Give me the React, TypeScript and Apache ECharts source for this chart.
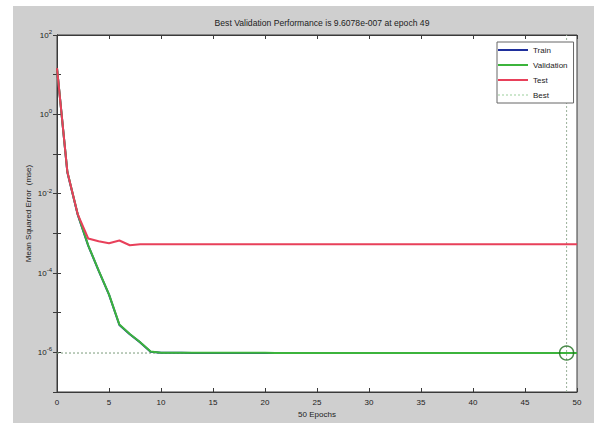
import React, { useEffect, useRef } from "react";
import * as echarts from "echarts";

const epochs: number[] = Array.from({ length: 51 }, (_, i) => i);

const trainMse: number[] = [
  14.7, 0.034, 0.0029, 4.9e-4, 1.15e-4, 2.85e-5, 4.9e-6, 2.85e-6, 1.78e-6, 1.04e-6,
  9.7e-7, 9.7e-7, 9.7e-7, 9.69e-7, 9.69e-7, 9.69e-7, 9.68e-7, 9.68e-7, 9.68e-7, 9.67e-7,
  9.67e-7, 9.67e-7, 9.66e-7, 9.66e-7, 9.66e-7, 9.65e-7, 9.65e-7, 9.65e-7, 9.64e-7, 9.64e-7,
  9.64e-7, 9.63e-7, 9.63e-7, 9.63e-7, 9.62e-7, 9.62e-7, 9.62e-7, 9.62e-7, 9.61e-7, 9.61e-7,
  9.61e-7, 9.61e-7, 9.6e-7, 9.6e-7, 9.6e-7, 9.6e-7, 9.6e-7, 9.6e-7, 9.6e-7, 9.6e-7, 9.6e-7,
];

const validationMse: number[] = [
  14.7, 0.035, 0.003, 5.0e-4, 1.17e-4, 2.9e-5, 5.0e-6, 2.9e-6, 1.8e-6, 1.05e-6,
  9.75e-7, 9.74e-7, 9.74e-7, 9.73e-7, 9.73e-7, 9.72e-7, 9.72e-7, 9.71e-7, 9.71e-7, 9.7e-7,
  9.7e-7, 9.69e-7, 9.69e-7, 9.68e-7, 9.68e-7, 9.67e-7, 9.67e-7, 9.66e-7, 9.66e-7, 9.65e-7,
  9.65e-7, 9.65e-7, 9.64e-7, 9.64e-7, 9.64e-7, 9.63e-7, 9.63e-7, 9.63e-7, 9.62e-7, 9.62e-7,
  9.62e-7, 9.62e-7, 9.61e-7, 9.61e-7, 9.61e-7, 9.61e-7, 9.61e-7, 9.61e-7, 9.608e-7, 9.6078e-7, 9.61e-7,
];

const testMse: number[] = [
  14.7, 0.035, 0.003, 7.4e-4, 6.3e-4, 5.6e-4, 6.6e-4, 5.0e-4, 5.3e-4, 5.3e-4,
  5.3e-4, 5.3e-4, 5.3e-4, 5.3e-4, 5.3e-4, 5.3e-4, 5.3e-4, 5.3e-4, 5.3e-4, 5.3e-4,
  5.3e-4, 5.3e-4, 5.3e-4, 5.3e-4, 5.3e-4, 5.3e-4, 5.3e-4, 5.3e-4, 5.3e-4, 5.3e-4,
  5.3e-4, 5.3e-4, 5.3e-4, 5.3e-4, 5.3e-4, 5.3e-4, 5.3e-4, 5.3e-4, 5.3e-4, 5.3e-4,
  5.3e-4, 5.3e-4, 5.3e-4, 5.3e-4, 5.3e-4, 5.3e-4, 5.3e-4, 5.3e-4, 5.3e-4, 5.3e-4, 5.3e-4,
];

const bestEpoch = 49;
const bestPerf = 9.6078e-7;
const xMin = 0;
const xMax = 50;
const xInterval = 5;
const yMin = 1e-7;
const yMax = 1e2;

const titleText = "Best Validation Performance is 9.6078e-007 at epoch 49";
const xLabel = "50 Epochs";
const yLabel = "Mean Squared Error  (mse)";
const legendNames = ["Train", "Validation", "Test", "Best"];

const FONT = "'Liberation Sans', Arial, sans-serif";
const SOLID_ICON = "path://M0,0H30V2H0Z";
const DOTTED_ICON =
  "path://M0,0H2V1H0Z M4,0H6V1H4Z M8,0H10V1H8Z M12,0H14V1H12Z M16,0H18V1H16Z M20,0H22V1H20Z M24,0H26V1H24Z M28,0H30V1H28Z";

export default function App() {
  const ref = useRef<HTMLDivElement>(null);
  useEffect(() => {
    if (!ref.current) return;
    const chart = echarts.init(ref.current, undefined, { renderer: "svg" });
    const pair = (arr: number[]) => arr.map((v, i) => [epochs[i], v]);
    const yLabelFmt = (v: number) => {
      const e = Math.round(Math.log10(v));
      if (e % 2 !== 0) return "";
      return `{b|10}{s|${e}}`;
    };
    const axisLineStyle = { color: "#3a3a3a", width: 1 };
    chart.setOption({
      animation: false,
      backgroundColor: "#ffffff",
      graphic: [
        {
          type: "rect",
          shape: { x: 13, y: 6, width: 581, height: 417 },
          style: { fill: "#cfcfcf" },
          z: -10,
          silent: true,
        },
      ],
      title: {
        text: titleText,
        left: 317,
        textAlign: "center",
        top: 13,
        textStyle: { fontFamily: FONT, fontSize: 8.6, fontWeight: "normal", color: "#222" },
      },
      legend: {
        data: legendNames.map((n) => ({ name: n, icon: n === "Best" ? DOTTED_ICON : SOLID_ICON })),
        orient: "vertical",
        left: 497,
        top: 42,
        itemWidth: 30,
        itemHeight: 8,
        itemGap: 7,
        padding: [4, 6, 4, 1],
        borderColor: "#666",
        borderWidth: 1,
        backgroundColor: "#ffffff",
        textStyle: { fontFamily: FONT, fontSize: 8, color: "#222" },
      },
      grid: {
        left: 57,
        top: 35,
        width: 520,
        height: 357,
        show: true,
        backgroundColor: "#ffffff",
        borderColor: "#3a3a3a",
        borderWidth: 1,
      },
      xAxis: [
        {
          type: "value",
          min: xMin,
          max: xMax,
          interval: xInterval,
          name: xLabel,
          nameLocation: "middle",
          nameGap: 18,
          nameMoveOverlap: false,
          nameTextStyle: { fontFamily: FONT, fontSize: 8, color: "#222" },
          axisLine: { show: true, lineStyle: axisLineStyle },
          axisTick: { show: true, inside: true, length: 4, lineStyle: axisLineStyle },
          axisLabel: { fontFamily: FONT, fontSize: 8, color: "#222", margin: 6 },
          splitLine: { show: false },
        },
        {
          type: "value",
          position: "top",
          min: xMin,
          max: xMax,
          interval: xInterval,
          axisLine: { show: true, lineStyle: axisLineStyle },
          axisTick: { show: true, inside: true, length: 4, lineStyle: axisLineStyle },
          axisLabel: { show: false },
          splitLine: { show: false },
        },
      ],
      yAxis: [
        {
          type: "log",
          logBase: 10,
          min: yMin,
          max: yMax,
          interval: 1,
          name: yLabel,
          nameLocation: "middle",
          nameGap: 25,
          nameMoveOverlap: false,
          nameTextStyle: { fontFamily: FONT, fontSize: 8, color: "#222" },
          axisLine: { show: true, lineStyle: axisLineStyle },
          axisTick: { show: true, inside: true, length: 4, lineStyle: axisLineStyle },
          axisLabel: {
            formatter: yLabelFmt,
            margin: 5,
            rich: {
              b: { fontFamily: FONT, fontSize: 8, color: "#222" },
              s: { fontFamily: FONT, fontSize: 6, color: "#222", verticalAlign: "top", padding: [0, 0, 6, 0] },
            },
          },
          splitLine: { show: false },
        },
        {
          type: "log",
          logBase: 10,
          position: "right",
          min: yMin,
          max: yMax,
          interval: 1,
          axisLine: { show: true, lineStyle: axisLineStyle },
          axisTick: { show: true, inside: true, length: 4, lineStyle: axisLineStyle },
          axisLabel: { show: false },
          splitLine: { show: false },
        },
      ],
      series: [
        {
          name: "Train",
          type: "line",
          data: pair(trainMse),
          symbol: "none",
          lineStyle: { color: "#1f2f9c", width: 2 },
          itemStyle: { color: "#1f2f9c" },
          z: 2,
        },
        {
          name: "Validation",
          type: "line",
          data: pair(validationMse),
          symbol: "none",
          lineStyle: { color: "#3cb43c", width: 2 },
          itemStyle: { color: "#3cb43c" },
          z: 3,
        },
        {
          name: "Test",
          type: "line",
          data: pair(testMse),
          symbol: "none",
          lineStyle: { color: "#e8405a", width: 2 },
          itemStyle: { color: "#e8405a" },
          z: 4,
        },
        {
          name: "Best",
          type: "line",
          data: [
            [xMin, bestPerf],
            [xMax, bestPerf],
          ],
          symbol: "none",
          lineStyle: { color: "#7a9a7a", width: 1, type: [2, 2] },
          itemStyle: { color: "#9cd09c" },
          z: 1,
        },
        {
          name: "Best",
          type: "line",
          data: [
            [bestEpoch, yMin],
            [bestEpoch, yMax],
          ],
          symbol: "none",
          lineStyle: { color: "#9ab09a", width: 1, type: [2, 2] },
          itemStyle: { color: "#9cd09c" },
          z: 1,
        },
        {
          name: "BestPoint",
          type: "scatter",
          data: [[bestEpoch, bestPerf]],
          symbol: "circle",
          symbolSize: 14,
          itemStyle: { color: "rgba(0,0,0,0)", borderColor: "#1e6e1e", borderWidth: 1.5 },
          z: 5,
        },
      ],
    });
    return () => chart.dispose();
  }, []);
  return (
    <div
      ref={ref}
      style={{ position: "fixed", left: 0, top: 0, width: 594, height: 423 }}
    />
  );
}
